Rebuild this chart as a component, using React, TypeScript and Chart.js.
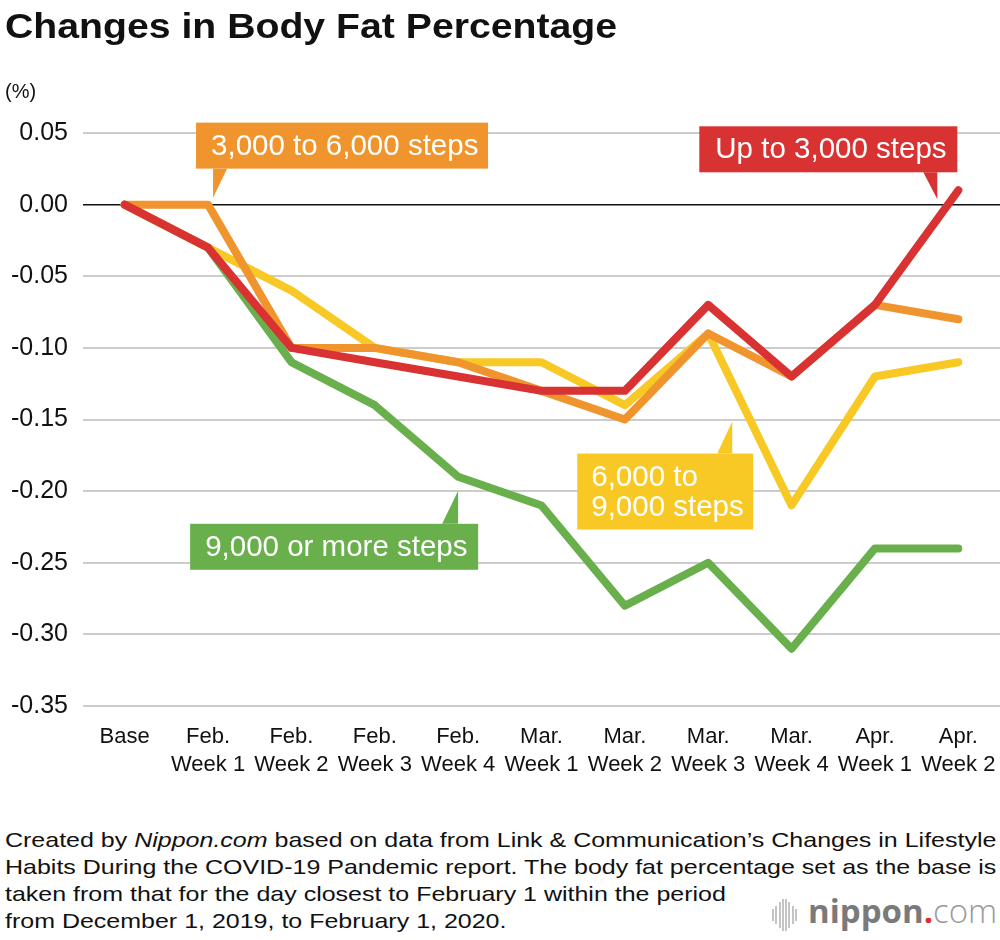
import React, { useEffect, useRef } from "react";
import { Chart, registerables } from "chart.js";

Chart.register(...registerables);

// ---- data ----
const categories: string[][] = [
  ["Base"],
  ["Feb.", "Week 1"],
  ["Feb.", "Week 2"],
  ["Feb.", "Week 3"],
  ["Feb.", "Week 4"],
  ["Mar.", "Week 1"],
  ["Mar.", "Week 2"],
  ["Mar.", "Week 3"],
  ["Mar.", "Week 4"],
  ["Apr.", "Week 1"],
  ["Apr.", "Week 2"],
];
const upTo3000 = [0, -0.03, -0.1, -0.11, -0.12, -0.13, -0.13, -0.07, -0.12, -0.07, 0.01];
const from3000to6000 = [0, 0, -0.1, -0.1, -0.11, -0.13, -0.15, -0.09, -0.12, -0.07, -0.08];
const from6000to9000 = [0, -0.03, -0.06, -0.1, -0.11, -0.11, -0.14, -0.09, -0.21, -0.12, -0.11];
const over9000 = [0, -0.03, -0.11, -0.14, -0.19, -0.21, -0.28, -0.25, -0.31, -0.24, -0.24];
const yTicks = [0.05, 0, -0.05, -0.1, -0.15, -0.2, -0.25, -0.3, -0.35];
const seriesNames = ["Up to 3,000 steps", "3,000 to 6,000 steps", "6,000 to 9,000 steps", "9,000 or more steps"];
const calloutLines = [["Up to 3,000 steps"], ["3,000 to 6,000 steps"], ["6,000 to", "9,000 steps"], ["9,000 or more steps"]];

const RED = "#d83232";
const ORANGE = "#f0952e";
const YELLOW = "#f8c925";
const GREEN = "#69b04c";
const colors = [RED, ORANGE, YELLOW, GREEN];
const seriesData = [upTo3000, from3000to6000, from6000to9000, over9000];

const FONT = '"Liberation Sans", Arial, Helvetica, sans-serif';

// callout geometry, relative to an anchor data point of the dataset
type Callout = {
  ds: number;
  idx: number;
  box: [number, number, number, number]; // l, t, r, b
  ptr: [number, number, number, number, number, number];
  tx: number;
};
const callouts: Callout[] = [
  { ds: 1, idx: 1, box: [-12, -82, 280, -36], ptr: [5, -36, 19, -36, 5, -7], tx: 15 },
  { ds: 0, idx: 10, box: [-259, -64, -1, -18], ptr: [-35, -18, -21, -18, -21, 9], tx: 16 },
  { ds: 3, idx: 4, box: [-268, 47, 20, 93], ptr: [-16, 47, 0, 47, 0, 14], tx: 15 },
  { ds: 2, idx: 7, box: [-131, 120, 45, 196], ptr: [9, 120, 24, 120, 24, 88], tx: 14 },
];

const calloutPlugin = {
  id: "callouts",
  afterDatasetsDraw(chart: any) {
    const { ctx } = chart;
    const xs = chart.scales.x;
    const ys = chart.scales.y;
    ctx.save();
    callouts.forEach((c) => {
      const ax = xs.getPixelForValue(c.idx);
      const ay = ys.getPixelForValue(seriesData[c.ds][c.idx]);
      const [l, t, r, b] = c.box;
      ctx.fillStyle = colors[c.ds];
      ctx.fillRect(ax + l, ay + t, r - l, b - t);
      const p = c.ptr;
      ctx.beginPath();
      ctx.moveTo(ax + p[0], ay + p[1]);
      ctx.lineTo(ax + p[2], ay + p[3]);
      ctx.lineTo(ax + p[4], ay + p[5]);
      ctx.closePath();
      ctx.fill();
      ctx.fillStyle = "#ffffff";
      ctx.font = `29.5px ${FONT}`;
      ctx.textBaseline = "middle";
      ctx.textAlign = "left";
      const lines = calloutLines[c.ds];
      const cy = ay + (t + b) / 2 + 1;
      lines.forEach((ln, i) => {
        ctx.fillText(ln, ax + l + c.tx, cy + (i - (lines.length - 1) / 2) * 30);
      });
    });
    ctx.restore();
  },
};

export default function App() {
  const ref = useRef<HTMLCanvasElement | null>(null);

  useEffect(() => {
    if (!ref.current) return;
    const chart = new Chart(ref.current, {
      type: "line",
      data: {
        labels: categories,
        datasets: seriesData.map((d, i) => ({
          label: seriesNames[i],
          data: d,
          borderColor: colors[i],
          backgroundColor: colors[i],
          borderWidth: 8,
          pointRadius: 0,
          pointHoverRadius: 0,
          tension: 0,
          borderCapStyle: "round" as const,
          borderJoinStyle: "round" as const,
          fill: false,
        })),
      },
      options: {
        animation: false,
        responsive: false,
        devicePixelRatio: 1,
        layout: { padding: { top: 133, left: 0, right: 0, bottom: 0 } },
        plugins: {
          legend: { display: false },
          tooltip: { enabled: false },
          title: { display: false },
        },
        scales: {
          x: {
            type: "category",
            offset: true,
            grid: { display: false, drawTicks: false },
            border: { display: false },
            ticks: {
              color: "#111",
              font: { family: FONT, size: 22, lineHeight: 1.27 },
              padding: 17,
              maxRotation: 0,
              autoSkip: false,
            },
            afterFit: (s: any) => {
              s.height = 94;
              s.paddingLeft = 0;
              s.paddingRight = 0;
            },
          },
          y: {
            type: "linear",
            min: -0.35,
            max: 0.05,
            afterBuildTicks: (s: any) => {
              s.ticks = yTicks.map((v) => ({ value: v }));
            },
            afterFit: (s: any) => {
              s.width = 83;
            },
            grid: {
              drawTicks: false,
              color: (c: any) => (c.tick && c.tick.value === 0 ? "#111" : "#cccccc"),
              lineWidth: (c: any) => (c.tick && c.tick.value === 0 ? 1.6 : 2),
            },
            border: { display: false },
            ticks: {
              color: "#111",
              font: { family: FONT, size: 25 },
              padding: 15,
              callback: (v: any) => Number(v).toFixed(2),
            },
          },
        },
      },
      plugins: [calloutPlugin],
    });
    return () => chart.destroy();
  }, []);

  const bars = [12, 18, 26, 32, 32, 26, 18, 12];

  return (
    <div
      style={{
        position: "absolute",
        left: 0,
        top: 0,
        width: 1000,
        height: 940,
        background: "#fff",
        fontFamily: FONT,
        color: "#111",
        overflow: "hidden",
      }}
    >
      <canvas ref={ref} width={1000} height={800} style={{ position: "absolute", left: 0, top: 0 }} />
      <div
        style={{
          position: "absolute",
          left: 5,
          top: 8,
          fontSize: 35,
          lineHeight: "35px",
          fontWeight: 700,
          whiteSpace: "nowrap",
          transform: "scaleX(1.12)",
          transformOrigin: "left top",
        }}
      >
        Changes in Body Fat Percentage
      </div>
      <div style={{ position: "absolute", left: 5, top: 80, fontSize: 20, lineHeight: "22px" }}>(%)</div>
      <div
        style={{
          position: "absolute",
          left: 5,
          top: 826,
          fontSize: 21,
          lineHeight: "27px",
          whiteSpace: "nowrap",
          transform: "scaleX(1.19)",
          transformOrigin: "left top",
        }}
      >
        Created by <i>Nippon.com</i> based on data from Link &amp; Communication’s Changes in Lifestyle
        <br />
        Habits During the COVID-19 Pandemic report. The body fat percentage set as the base is
        <br />
        taken from that for the day closest to February 1 within the period
        <br />
        from December 1, 2019, to February 1, 2020.
      </div>
      <div style={{ position: "absolute", left: 772, top: 898, display: "flex", alignItems: "center", height: 34 }}>
        {bars.map((h, i) => (
          <div key={i} style={{ width: 2, height: h, background: "#c4c4c4", marginRight: 1.3 }} />
        ))}
      </div>
      <div
        style={{
          position: "absolute",
          left: 808,
          top: 891,
          fontFamily: '"Open Sans", sans-serif',
          fontSize: 33,
          lineHeight: "40px",
          color: "#7a7a7a",
          whiteSpace: "nowrap",
        }}
      >
        <span style={{ fontWeight: 700 }}>nippon</span>
        <span style={{ color: "#e8262d", fontWeight: 700 }}>.</span>
        <span style={{ fontWeight: 300, color: "#9a9a9a" }}>com</span>
      </div>
    </div>
  );
}
